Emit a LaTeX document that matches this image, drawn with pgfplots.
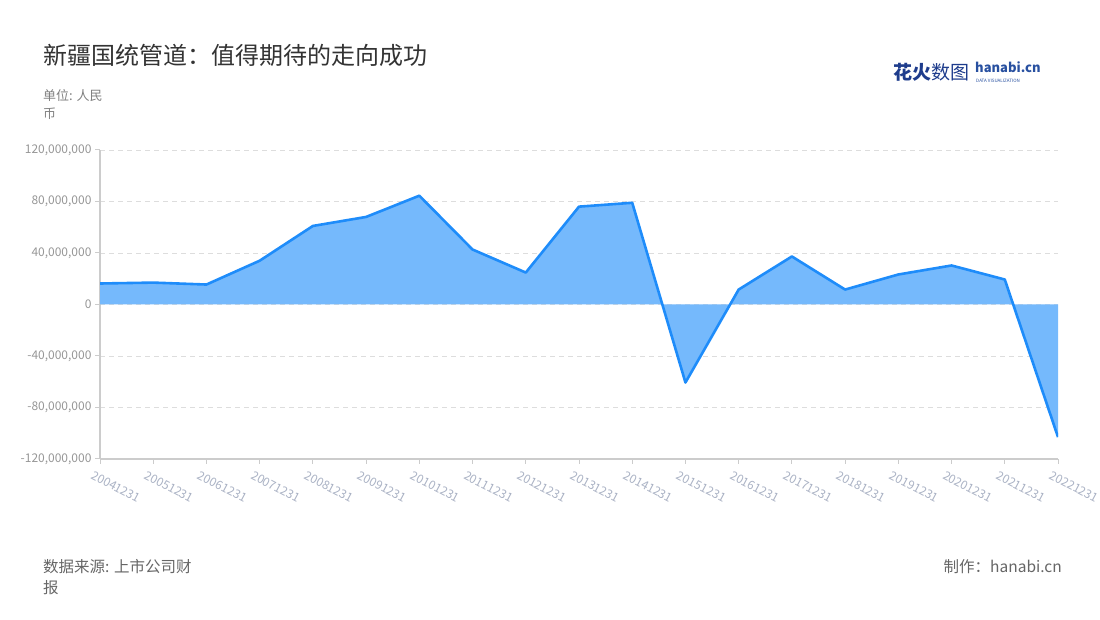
\documentclass[border=0pt]{standalone}
\usepackage{pgfplots}
\pgfplotsset{compat=1.18}
\usepackage{fontspec}
\setmainfont{Noto Sans CJK SC}
\definecolor{linec}{RGB}{30,140,250}
\definecolor{fillc}{RGB}{117,185,252}
\definecolor{gridc}{RGB}{221,221,221}
\definecolor{axisc}{RGB}{204,204,204}
\definecolor{ytickc}{RGB}{150,150,150}
\definecolor{xtickc}{RGB}{170,178,196}
\definecolor{logoblue}{RGB}{30,60,140}
\definecolor{logoblue2}{RGB}{40,80,160}
\begin{document}
\begin{tikzpicture}
\useasboundingbox (0pt,0pt) rectangle (1100pt,620pt);
\begin{axis}[
  at={(100pt,161pt)}, anchor=south west,
  scale only axis, width=958pt, height=309pt,
  xmin=0, xmax=18, ymin=-120, ymax=120,
  axis x line*=bottom, axis y line*=left,
  axis line style={axisc, line width=1.2pt},
  xtick={0,...,18},
  xticklabels={20041231,20051231,20061231,20071231,20081231,20091231,20101231,20111231,20121231,20131231,20141231,20151231,20161231,20171231,20181231,20191231,20201231,20211231,20221231},
  x tick label style={rotate=-28, anchor=north west, text=xtickc, font=\fontsize{12}{12}\selectfont, inner sep=0pt, xshift=-2pt, yshift=-8pt},
  ytick={-120,-80,-40,0,40,80,120},
  yticklabels={-120{,}000{,}000,-80{,}000{,}000,-40{,}000{,}000,0,40{,}000{,}000,80{,}000{,}000,120{,}000{,}000},
  yticklabel style={text=ytickc, font=\fontsize{12}{12}\selectfont},
  tick align=outside, major tick length=5pt,
  tick style={axisc, line width=1pt},
  ymajorgrids, grid style={gridc, line width=0.8pt, dash pattern=on 5pt off 4pt},
]
\addplot[fill=fillc, draw=none] coordinates {
(0,16.3) (1,17.0) (2,15.5) (3,34.0) (4,61.0) (5,68.0) (6,84.5) (7,42.7) (8,24.8) (9,76.0) (10,79.0) (11,-60.6) (12,11.6) (13,37.3) (14,11.6) (15,23.3) (16,30.3) (17,19.4) (18,-103.0)
} \closedcycle;
\addplot[linec, line width=2.6pt, line join=round] coordinates {
(0,16.3) (1,17.0) (2,15.5) (3,34.0) (4,61.0) (5,68.0) (6,84.5) (7,42.7) (8,24.8) (9,76.0) (10,79.0) (11,-60.6) (12,11.6) (13,37.3) (14,11.6) (15,23.3) (16,30.3) (17,19.4) (18,-103.0)
};
\end{axis}
% title and texts
\node[anchor=west, inner sep=0pt, text=black!80, font=\fontsize{24}{24}\selectfont] at (43pt,565pt) {新疆国统管道：值得期待的走向成功};
\node[anchor=west, inner sep=0pt, text=black!50, font=\fontsize{13}{13}\selectfont] at (43pt,524pt) {单位: 人民};
\node[anchor=west, inner sep=0pt, text=black!50, font=\fontsize{13}{13}\selectfont] at (43pt,506pt) {币};
\node[anchor=west, inner sep=0pt, text=black!60, font=\fontsize{15.5}{15.5}\selectfont] at (43pt,53pt) {数据来源: 上市公司财};
\node[anchor=west, inner sep=0pt, text=black!60, font=\fontsize{15.5}{15.5}\selectfont] at (43pt,32pt) {报};
\node[anchor=east, inner sep=0pt, text=black!60, font=\fontsize{15.5}{15.5}\selectfont] at (1062pt,53pt) {制作：hanabi.cn};
% logo
\node[anchor=west, text=logoblue, font=\fontsize{19}{19}\selectfont\bfseries, inner sep=0pt] at (893pt,548pt) {花火\mdseries 数图};
\node[anchor=west, text=logoblue2, font=\fontsize{13}{13}\selectfont\bfseries, inner sep=0pt] at (975pt,553pt) {hanabi.cn};
\node[anchor=west, text=logoblue2, font=\fontsize{4.5}{4.5}\selectfont, inner sep=0pt] at (976pt,539pt) {DATA VISUALIZATION};
\end{tikzpicture}
\end{document}
